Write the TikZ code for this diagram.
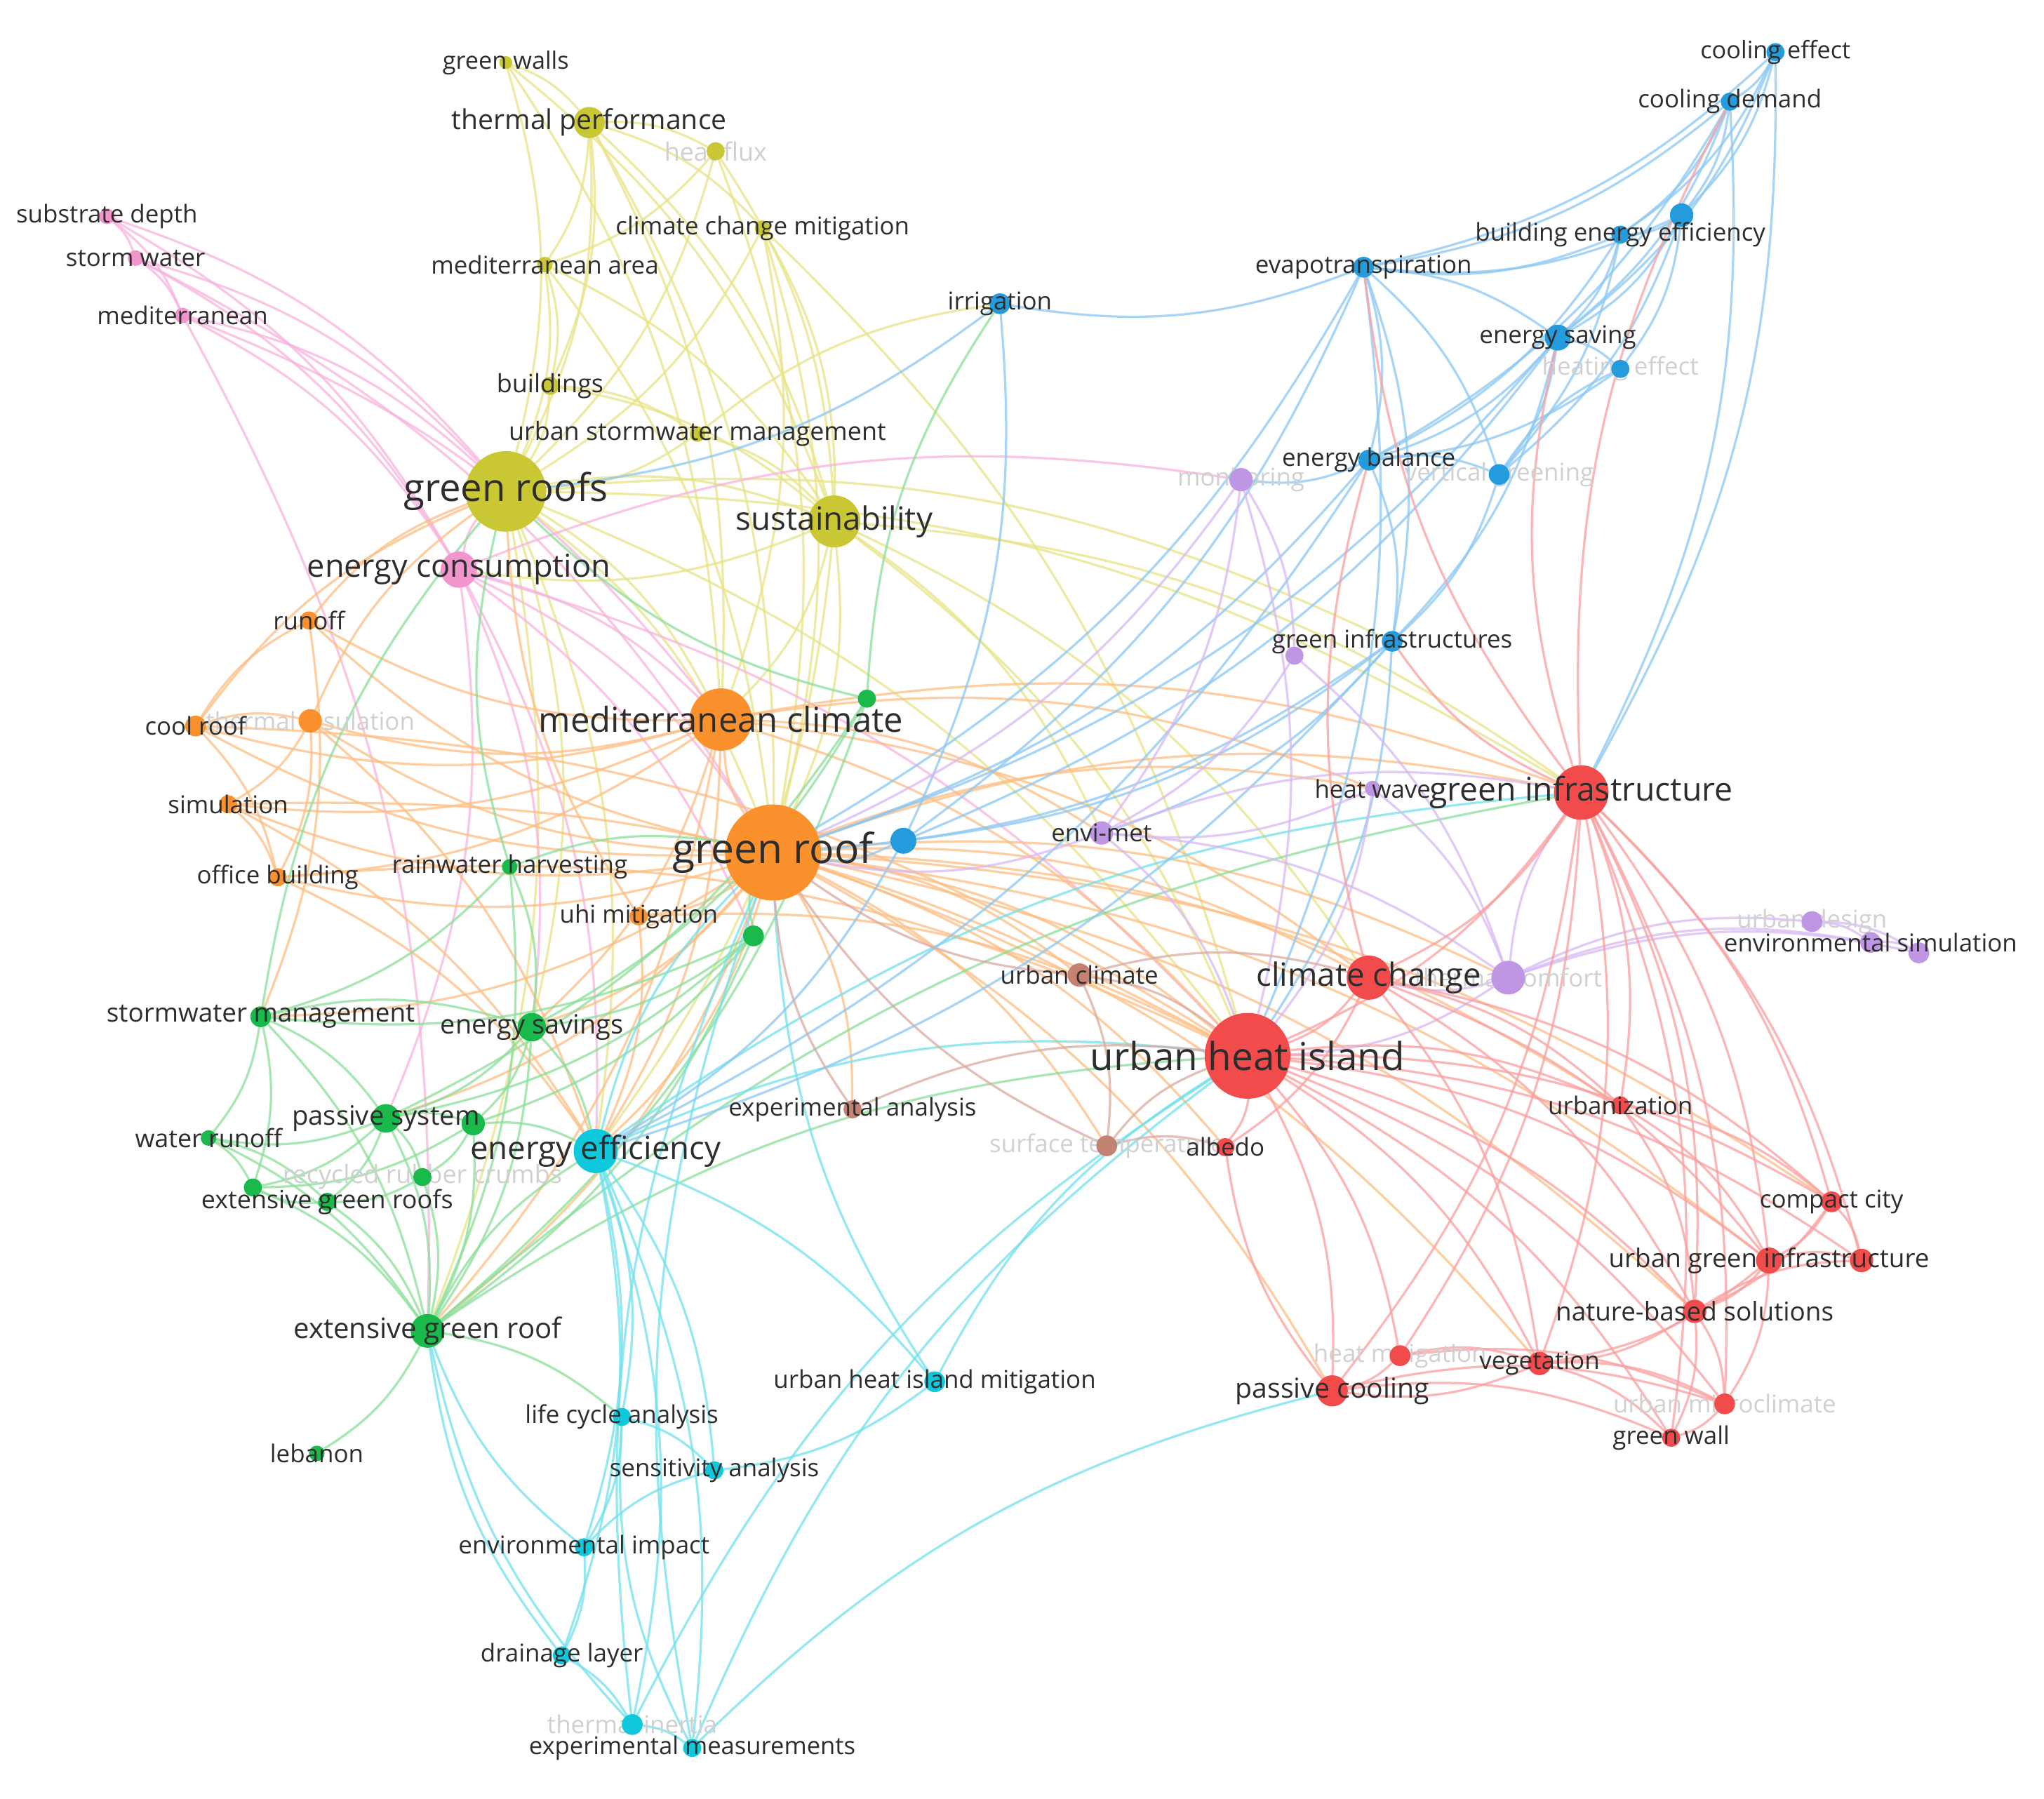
\documentclass[tikz,border=0pt]{standalone}
\usepackage{fontspec}
\setmainfont{Open Sans}
\pgfdeclarelayer{edges}
\pgfdeclarelayer{faint}
\pgfdeclarelayer{labels}
\pgfsetlayers{edges,faint,main,labels}
\definecolor{cyel}{RGB}{201,199,52}
\definecolor{cpin}{RGB}{240,150,205}
\definecolor{cora}{RGB}{250,145,45}
\definecolor{cgre}{RGB}{25,185,75}
\definecolor{ccya}{RGB}{15,200,220}
\definecolor{cblu}{RGB}{35,155,220}
\definecolor{cpur}{RGB}{190,150,228}
\definecolor{cbro}{RGB}{195,130,115}
\definecolor{cred}{RGB}{242,75,75}
\definecolor{eyelc}{RGB}{232,228,135}
\definecolor{epinc}{RGB}{247,180,222}
\definecolor{eorac}{RGB}{252,190,130}
\definecolor{egrec}{RGB}{140,222,155}
\definecolor{ecyac}{RGB}{115,225,235}
\definecolor{ebluc}{RGB}{140,200,242}
\definecolor{epurc}{RGB}{215,185,242}
\definecolor{ebroc}{RGB}{218,172,160}
\definecolor{eredc}{RGB}{250,160,160}
\definecolor{txtlabels}{RGB}{45,45,45}
\definecolor{txtfaint}{RGB}{208,208,208}
\tikzset{
  kwdot/.style={circle, draw=none, inner sep=0pt, outer sep=0pt},
  kwlab/.style={inner sep=0pt, outer sep=0pt, anchor=center},
  edgebase/.style={line width=1pt, opacity=0.75},
  eyel/.style={edgebase, draw=eyelc},
  epin/.style={edgebase, draw=epinc},
  eora/.style={edgebase, draw=eorac},
  egre/.style={edgebase, draw=egrec},
  ecya/.style={edgebase, draw=ecyac},
  eblu/.style={edgebase, draw=ebluc},
  epur/.style={edgebase, draw=epurc},
  ebro/.style={edgebase, draw=ebroc},
  ered/.style={edgebase, draw=eredc}
}
\newcommand\KW[8]{%
  \node[kwdot, fill=#5, minimum size=#4*1.134pt] (#1) at (#2,#3) {};%
  \begin{pgfonlayer}{#8}\node[kwlab, text=txt#8, font=\fontsize{#6}{#6}\selectfont] (l#1) at (#1.center) {#7};\end{pgfonlayer}}
\newcommand\KWdot[5]{%
  \node[kwdot, fill=#5, minimum size=#4*1.134pt] (#1) at (#2,#3) {};}
\begin{document}
\begin{tikzpicture}[x=0.02cm,y=-0.02cm]
\useasboundingbox (0,0) rectangle (1568,1380);
% yellow
\KW{gwalls}{388}{48}{5}{cyel}{10.5pt}{green walls}{labels}
\KW{thperf}{452}{94}{12}{cyel}{12pt}{thermal performance}{labels}
\KW{hflux}{549}{116}{7}{cyel}{11pt}{heat flux}{faint}
\KW{ccmit}{585}{175}{6}{cyel}{10.7pt}{climate change mitigation}{labels}
\KW{medarea}{418}{203}{6}{cyel}{10.7pt}{mediterranean area}{labels}
\KW{bldg}{422}{296}{7}{cyel}{11pt}{buildings}{labels}
\KW{usm}{535}{333}{6}{cyel}{11pt}{urban stormwater management}{labels}
\KW{groofs}{388}{377}{31}{cyel}{16.7pt}{green roofs}{labels}
\KW{sust}{640}{400}{20}{cyel}{14pt}{sustainability}{labels}
% pink
\KW{subd}{82}{166}{6}{cpin}{10.7pt}{substrate depth}{labels}
\KW{stormw}{104}{198}{6}{cpin}{10.7pt}{storm water}{labels}
\KW{med}{140}{242}{6}{cpin}{10.7pt}{mediterranean}{labels}
\KW{econs}{352}{437}{14}{cpin}{13.8pt}{energy consumption}{labels}
% orange
\KW{runoff}{237}{476}{7}{cora}{10.7pt}{runoff}{labels}
\KW{coolroof}{150}{557}{8}{cora}{10.7pt}{cool roof}{labels}
\KW{thins}{238}{553}{9}{cora}{10.7pt}{thermal insulation}{faint}
\KW{sim}{175}{617}{7}{cora}{10.7pt}{simulation}{labels}
\KW{office}{213}{673}{7}{cora}{10.7pt}{office building}{labels}
\KW{medclim}{553}{552}{24}{cora}{15pt}{mediterranean climate}{labels}
\KW{groof}{593}{654}{37}{cora}{18pt}{green roof}{labels}
\KW{uhimit}{490}{703}{7}{cora}{10.7pt}{uhi mitigation}{labels}
% green
\KWdot{gA}{665}{536}{7}{cgre}
\KW{rwh}{391}{665}{6}{cgre}{10.7pt}{rainwater harvesting}{labels}
\KWdot{gB}{578}{718}{8}{cgre}
\KW{swm}{200}{780}{8}{cgre}{11.3pt}{stormwater management}{labels}
\KW{esavings}{408}{788}{11}{cgre}{11.6pt}{energy savings}{labels}
\KW{psys}{296}{858}{11}{cgre}{11.7pt}{passive system}{labels}
\KWdot{gC}{363}{862}{9}{cgre}
\KW{wrunoff}{160}{873}{6}{cgre}{11pt}{water runoff}{labels}
\KW{rrc}{324}{903}{7}{cgre}{11pt}{recycled rubber crumbs}{faint}
\KW{egrs}{251}{922}{7}{cgre}{11pt}{extensive green roofs}{labels}
\KWdot{gD}{194}{911}{7}{cgre}
\KW{egr}{328}{1021}{13}{cgre}{12.3pt}{extensive green roof}{labels}
\KW{lebanon}{243}{1115}{6}{cgre}{10.7pt}{lebanon}{labels}
% cyan
\KW{eeff}{457}{883}{17}{ccya}{14pt}{energy efficiency}{labels}
\KW{uhim}{717}{1060}{8}{ccya}{10.7pt}{urban heat island mitigation}{labels}
\KW{lca}{477}{1087}{7}{ccya}{10.7pt}{life cycle analysis}{labels}
\KW{sens}{548}{1128}{7}{ccya}{10.7pt}{sensitivity analysis}{labels}
\KW{envimp}{448}{1187}{7}{ccya}{10.7pt}{environmental impact}{labels}
\KW{drain}{431}{1270}{7}{ccya}{10.7pt}{drainage layer}{labels}
\KW{thinert}{485}{1323}{8}{ccya}{10.7pt}{thermal inertia}{faint}
\KW{expmeas}{531}{1341}{7}{ccya}{10.6pt}{experimental measurements}{labels}
% blue
\KW{coolef}{1362}{40}{7}{cblu}{10.5pt}{cooling effect}{labels}
\KW{cooldem}{1327}{78}{7}{cblu}{10.7pt}{cooling demand}{labels}
\KWdot{bA}{1290}{165}{9}{cblu}
\KW{bee}{1243}{180}{7}{cblu}{10.7pt}{building energy efficiency}{labels}
\KW{evapo}{1046}{205}{8}{cblu}{10.7pt}{evapotranspiration}{labels}
\KW{irrig}{767}{233}{8}{cblu}{10.7pt}{irrigation}{labels}
\KW{esaving}{1195}{259}{10}{cblu}{10.7pt}{energy saving}{labels}
\KW{heatef}{1243}{283}{7}{cblu}{10.7pt}{heating effect}{faint}
\KW{ebal}{1050}{353}{8}{cblu}{10.7pt}{energy balance}{labels}
\KW{vgreen}{1150}{364}{8}{cblu}{10.7pt}{vertical greening}{faint}
\KW{ginfs}{1068}{492}{8}{cblu}{10.7pt}{green infrastructures}{labels}
\KWdot{bB}{693}{645}{10}{cblu}
% purple
\KW{monit}{952}{368}{9}{cpur}{10.7pt}{monitoring}{faint}
\KWdot{pA}{993}{503}{7}{cpur}
\KW{hwave}{1053}{605}{6}{cpur}{10.7pt}{heat wave}{labels}
\KW{envimet}{845}{639}{9}{cpur}{10.7pt}{envi-met}{labels}
\KW{tcomf}{1157}{750}{13}{cpur}{10.7pt}{thermal comfort}{faint}
\KW{udesign}{1390}{707}{8}{cpur}{10.7pt}{urban design}{faint}
\KW{envsim}{1435}{723}{8}{cpur}{10.7pt}{environmental simulation}{labels}
\KWdot{pB}{1472}{731}{8}{cpur}
% brown
\KW{uclim}{828}{748}{9}{cbro}{10.7pt}{urban climate}{labels}
\KW{expan}{654}{851}{7}{cbro}{10.7pt}{experimental analysis}{labels}
\KW{surft}{849}{879}{8}{cbro}{10.7pt}{surface temperature}{faint}
% red
\KW{ginf}{1213}{608}{21}{cred}{14.2pt}{green infrastructure}{labels}
\KW{cchange}{1050}{750}{17}{cred}{14pt}{climate change}{labels}
\KW{uhi}{957}{810}{33}{cred}{16.8pt}{urban heat island}{labels}
\KW{urbzn}{1243}{848}{7}{cred}{10.7pt}{urbanization}{labels}
\KW{albedo}{940}{880}{7}{cred}{10.7pt}{albedo}{labels}
\KW{compact}{1405}{922}{8}{cred}{10.7pt}{compact city}{labels}
\KW{ugi}{1357}{967}{10}{cred}{11.3pt}{urban green infrastructure}{labels}
\KWdot{rA}{1428}{967}{9}{cred}
\KW{nbs}{1300}{1006}{9}{cred}{11.3pt}{nature-based solutions}{labels}
\KW{hmit}{1074}{1040}{8}{cred}{10.7pt}{heat mitigation}{faint}
\KW{veg}{1181}{1046}{9}{cred}{10.7pt}{vegetation}{labels}
\KW{pcool}{1022}{1067}{12}{cred}{12pt}{passive cooling}{labels}
\KW{umicro}{1323}{1077}{8}{cred}{10.7pt}{urban microclimate}{faint}
\KW{gwall}{1282}{1103}{7}{cred}{10.7pt}{green wall}{labels}
\begin{pgfonlayer}{edges}
\fill[white] (0,0) rectangle (1568,1380);
\foreach \a/\b in {gwalls/thperf, gwalls/groofs, gwalls/sust, gwalls/medclim,
 thperf/groofs, thperf/hflux, thperf/medarea, thperf/sust, thperf/medclim, thperf/bldg, thperf/groof, thperf/ccmit,
 hflux/groofs, hflux/sust, hflux/groof, hflux/medarea,
 ccmit/groofs, ccmit/sust, ccmit/groof, ccmit/medclim, ccmit/uhi,
 medarea/groofs, medarea/bldg, medarea/sust, medarea/groof,
 bldg/groofs, bldg/sust, bldg/usm, usm/groofs, usm/sust, usm/irrig,
 groofs/sust, groofs/medclim, groofs/groof, groofs/eeff, groofs/esavings, groofs/ginfs, groofs/uhi, groofs/ginf, groofs/egr,
 sust/groof, sust/medclim, sust/ginf, sust/econs, sust/uhi, sust/eeff, sust/envimet, sust/cchange}
 {\draw[eyel] (\a) to[bend left=15] (\b);}
\foreach \a/\b in {subd/groofs, subd/stormw, subd/med, subd/econs, stormw/groofs, stormw/med, stormw/econs, stormw/groof,
 med/groofs, med/econs, med/medclim, med/egr, econs/groofs, econs/groof, econs/medclim, econs/esavings, econs/eeff,
 econs/uhi, econs/monit, econs/psys, econs/gB}
 {\draw[epin] (\a) to[bend left=15] (\b);}
\foreach \a/\b in {groof/medclim, groof/uhi, groof/cchange, groof/ginf, groof/eeff, groof/esavings, groof/egr, groof/swm,
 groof/coolroof, groof/thins, groof/sim, groof/office, groof/runoff, groof/uhimit, groof/uclim, groof/expan, groof/surft,
 groof/albedo, groof/pcool, groof/veg, groof/urbzn, groof/ugi, groof/nbs, groof/psys, groof/hwave, groof/tcomf, groof/compact,
 medclim/coolroof, medclim/thins, medclim/runoff, medclim/sim, medclim/office, medclim/uhi, medclim/ginf, medclim/eeff,
 medclim/egr, medclim/esavings, medclim/cchange, medclim/hwave, medclim/envimet,
 coolroof/thins, coolroof/runoff, coolroof/uhi, coolroof/office, coolroof/groofs,
 thins/sim, thins/groofs, thins/office, thins/eeff, runoff/groofs, runoff/swm,
 sim/office, sim/uhi, sim/eeff, office/eeff, office/uhi, uhimit/uhi, uhimit/groofs, uhimit/eeff}
 {\draw[eora] (\a) to[bend left=15] (\b);}
\foreach \a/\b in {gA/groofs, gA/esavings, gA/psys, gA/irrig, gA/egr, rwh/groofs, rwh/egr, rwh/swm, rwh/esavings, rwh/groof,
 gB/egr, gB/psys, gB/esavings, gB/groof, gB/swm, gB/gC, swm/egr, swm/wrunoff, swm/gD, swm/groofs, swm/esavings, swm/psys,
 esavings/psys, esavings/gC, esavings/egr, esavings/eeff, psys/gC, psys/egrs, psys/gD, psys/rrc, psys/egr, psys/wrunoff,
 gC/egr, gC/eeff, gC/rrc, gC/gD, wrunoff/gD, wrunoff/egr, wrunoff/egrs, rrc/egrs, rrc/egr, egrs/gD, egrs/egr, gD/egr,
 egr/lebanon, egr/eeff, egr/uhi, egr/lca, egr/ginf}
 {\draw[egre] (\a) to[bend left=15] (\b);}
\foreach \a/\b in {eeff/groof, eeff/lca, eeff/sens, eeff/envimp, eeff/drain, eeff/uhim, eeff/expmeas, eeff/thinert, eeff/uhi,
 eeff/ginf, uhim/sens, uhim/groof, uhim/uhi, lca/sens, lca/envimp, envimp/drain, envimp/sens, envimp/egr, drain/thinert,
 drain/egr, thinert/expmeas, thinert/uhi, thinert/egr, thinert/groof, expmeas/uhi, expmeas/groof, expmeas/lca, expmeas/pcool}
 {\draw[ecya] (\a) to[bend left=15] (\b);}
\foreach \a/\b in {coolef/cooldem, coolef/bA, coolef/bee, coolef/esaving, coolef/evapo, coolef/ginf, cooldem/bA, cooldem/bee,
 cooldem/esaving, cooldem/evapo, cooldem/ebal, cooldem/ginf, bA/bee, bA/esaving, bA/evapo, bA/heatef, bA/vgreen,
 bee/esaving, bee/evapo, bee/vgreen, bee/ebal, evapo/irrig, evapo/esaving, evapo/ebal, evapo/ginfs, evapo/uhi, evapo/groof,
 evapo/vgreen, evapo/bB, irrig/bB, irrig/groofs, esaving/heatef, esaving/vgreen, esaving/ebal, esaving/ginfs, esaving/bB,
 esaving/groof, ebal/vgreen, ebal/ginfs, ebal/monit, ebal/eeff, ebal/groof, vgreen/ginfs, vgreen/heatef, ginfs/bB,
 ginfs/eeff, ginfs/groof, ginfs/envimet, ginfs/uhi, bB/groof, bB/eeff, heatef/ebal}
 {\draw[eblu] (\a) to[bend left=15] (\b);}
\foreach \a/\b in {monit/pA, monit/envimet, monit/groof, monit/uhi, pA/envimet, pA/tcomf, hwave/tcomf, hwave/uhi,
 hwave/envimet, envimet/tcomf, envimet/groof, envimet/uhi, envimet/ginf, tcomf/udesign, tcomf/envsim, tcomf/pB,
 tcomf/cchange, tcomf/ginf, tcomf/uhi, udesign/envsim, envsim/pB, udesign/pB}
 {\draw[epur] (\a) to[bend left=15] (\b);}
\foreach \a/\b in {uclim/uhi, uclim/groof, uclim/cchange, uclim/surft, expan/uhi, expan/groof, surft/uhi, surft/albedo, surft/groof}
 {\draw[ebro] (\a) to[bend left=15] (\b);}
\foreach \a/\b in {ginf/cchange, ginf/uhi, ginf/urbzn, ginf/compact, ginf/ugi, ginf/nbs, ginf/veg, ginf/pcool, ginf/evapo,
 ginf/cooldem, ginf/esaving, ginf/ginfs, ginf/hmit, ginf/gwall, ginf/umicro, ginf/rA,
 cchange/uhi, cchange/urbzn, cchange/ugi, cchange/nbs, cchange/veg, cchange/compact, cchange/albedo, cchange/ebal,
 uhi/albedo, uhi/urbzn, uhi/pcool, uhi/veg, uhi/hmit, uhi/ugi, uhi/nbs, uhi/compact, uhi/umicro, uhi/gwall, uhi/rA,
 urbzn/ugi, urbzn/nbs, urbzn/compact, compact/ugi, compact/nbs, compact/rA, ugi/rA, ugi/nbs, ugi/veg, ugi/umicro,
 nbs/umicro, nbs/gwall, nbs/veg, nbs/rA, hmit/pcool, hmit/veg, hmit/umicro, veg/pcool, veg/gwall, veg/umicro,
 pcool/umicro, pcool/gwall, pcool/albedo, umicro/gwall}
 {\draw[ered] (\a) to[bend left=15] (\b);}
\end{pgfonlayer}
\end{tikzpicture}
\end{document}
